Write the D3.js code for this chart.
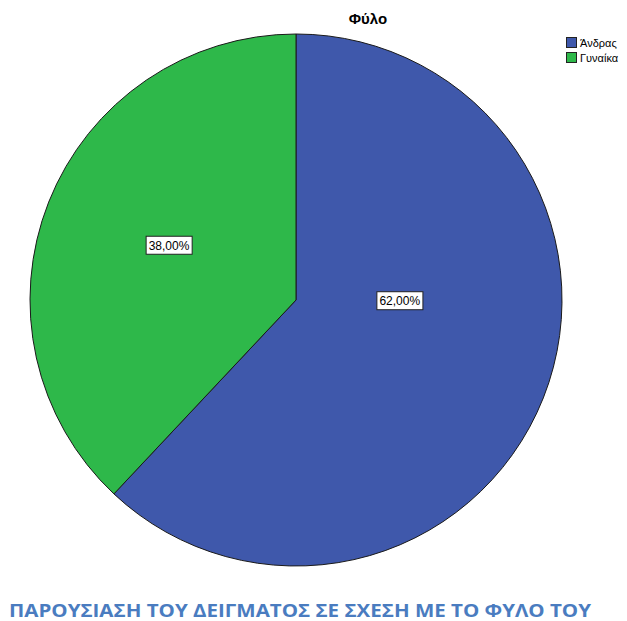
<!DOCTYPE html>
<html>
<head>
<meta charset="utf-8">
<script src="https://cdn.jsdelivr.net/npm/d3@7"></script>
<style>
  html, body { margin: 0; padding: 0; background: #fff; }
  svg { display: block; }
</style>
</head>
<body>
<svg id="chart" width="627" height="621"></svg>
<script>
// Sample by gender
const categories = ["Άνδρας", "Γυναίκα"];
const values = [62.0, 38.0];
const colors = ["#3F58AB", "#2EB84A"];
const chartTitle = "Φύλο";
const caption = "ΠΑΡΟΥΣΙΑΣΗ ΤΟΥ ΔΕΙΓΜΑΤΟΣ ΣΕ ΣΧΕΣΗ ΜΕ ΤΟ ΦΥΛΟ ΤΟΥ";

const svg = d3.select("#chart");
const cx = 296, cy = 300, r = 266;

const fmt = v => d3.format(".2f")(v).replace(".", ",") + "%";

const pie = d3.pie().sort(null).value(d => d.value);
const data = categories.map((c, i) => ({ cat: c, value: values[i], color: colors[i] }));
const arcs = pie(data);
const arc = d3.arc().innerRadius(0).outerRadius(r);

const g = svg.append("g").attr("transform", `translate(${cx},${cy})`);

g.selectAll("path.slice")
  .data(arcs)
  .enter().append("path")
  .attr("class", "slice")
  .attr("d", arc)
  .attr("fill", d => d.data.color)
  .attr("stroke", "#1a1a1a")
  .attr("stroke-width", 1);

// label placement: angle shift (radians) and radius fraction per slice
const labelPlace = [
  { shift: -0.37, k: 0.39 },
  { shift: 0.03, k: 0.52 }
];

arcs.forEach((a, i) => {
  const mid = (a.startAngle + a.endAngle) / 2 + labelPlace[i].shift;
  const d = r * labelPlace[i].k;
  const x = d * Math.sin(mid), y = -d * Math.cos(mid);
  const lg = g.append("g").attr("transform", `translate(${x},${y})`);
  const t = lg.append("text")
    .attr("text-anchor", "middle")
    .attr("dy", "0.36em")
    .attr("font-family", "Liberation Sans, Arial, sans-serif")
    .attr("font-size", 12)
    .attr("fill", "#000")
    .text(fmt(a.data.value));
  const bb = t.node().getBBox();
  lg.insert("rect", "text")
    .attr("x", bb.x - 2.5)
    .attr("y", -9)
    .attr("width", bb.width + 5)
    .attr("height", 18)
    .attr("fill", "#fff")
    .attr("stroke", "#222")
    .attr("stroke-width", 1);
});

// title
svg.append("text")
  .attr("x", 368)
  .attr("y", 24)
  .attr("text-anchor", "middle")
  .attr("font-family", "Liberation Sans, Arial, sans-serif")
  .attr("font-weight", "bold")
  .attr("font-size", 15)
  .attr("fill", "#000")
  .text(chartTitle);

// legend
const legend = svg.append("g").attr("transform", "translate(566,37)");
categories.forEach((c, i) => {
  const row = legend.append("g").attr("transform", `translate(0,${i * 15})`);
  row.append("rect")
    .attr("x", 0.5).attr("y", 0.5)
    .attr("width", 10).attr("height", 10)
    .attr("fill", colors[i])
    .attr("stroke", "#222")
    .attr("stroke-width", 1);
  row.append("text")
    .attr("x", 14)
    .attr("y", 9.5)
    .attr("font-family", "Liberation Sans, Arial, sans-serif")
    .attr("font-size", 11)
    .attr("fill", "#000")
    .text(c);
});

// caption
svg.append("text")
  .attr("x", 9)
  .attr("y", 617)
  .attr("font-family", "Open Sans, Liberation Sans, sans-serif")
  .attr("font-weight", "bold")
  .attr("font-size", 18)
  .attr("fill", "#4A7CC0")
  .attr("textLength", 582)
  .attr("lengthAdjust", "spacingAndGlyphs")
  .text(caption);
</script>
</body>
</html>
